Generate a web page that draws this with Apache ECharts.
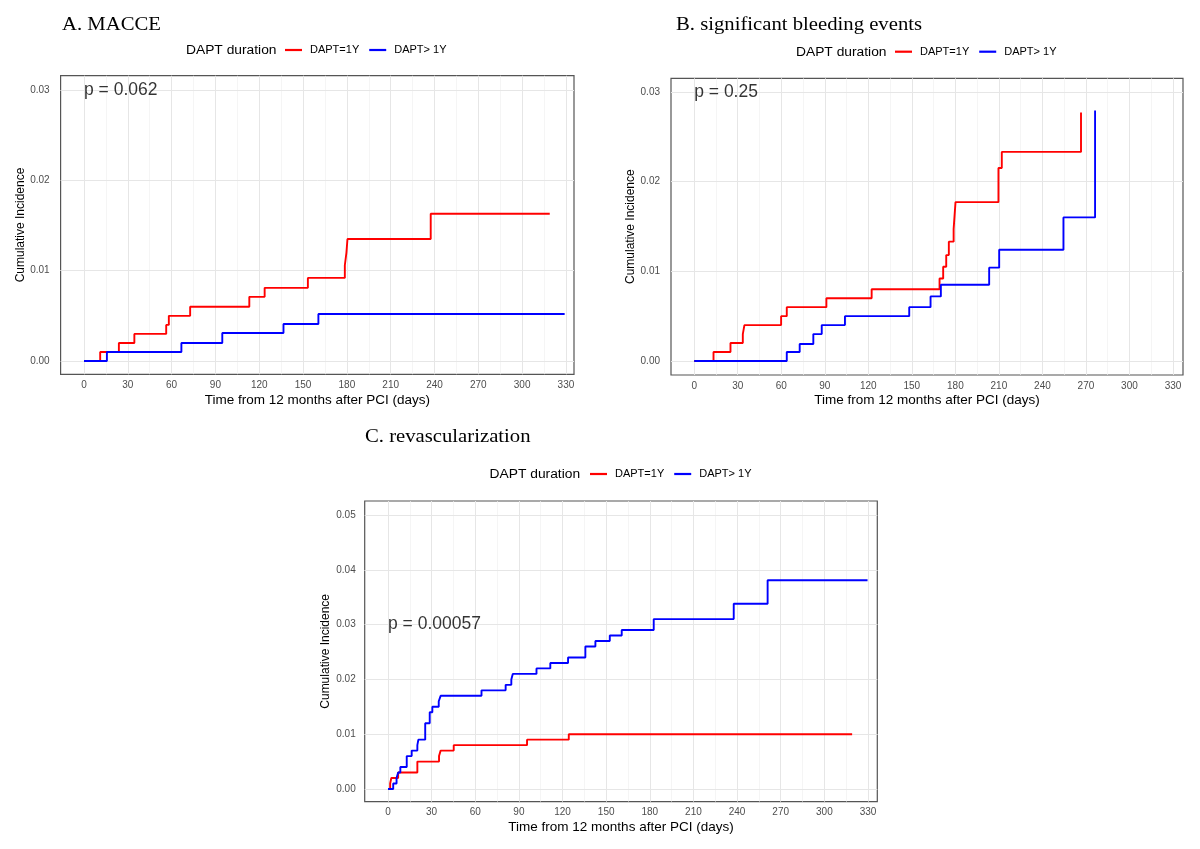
<!DOCTYPE html>
<html><head><meta charset="utf-8">
<script src="https://cdn.jsdelivr.net/npm/echarts@6/dist/echarts.min.js"></script>
<style>html,body{margin:0;padding:0;background:#fff}#c{width:1200px;height:849px}</style>
</head><body><div id="c"></div>
<script>
// ---------- data ----------
const panelTitles = ['A. MACCE', 'B. significant bleeding events', 'C. revascularization'];
const pValues = ['p = 0.062', 'p = 0.25', 'p = 0.00057'];
const legendTitle = 'DAPT duration';
const groupNames = ['DAPT=1Y', 'DAPT> 1Y'];
const xTitle = 'Time from 12 months after PCI (days)';
const yTitle = 'Cumulative Incidence';
const xTicks = [0, 30, 60, 90, 120, 150, 180, 210, 240, 270, 300, 330];
const xMinor = [15, 45, 75, 105, 135, 165, 195, 225, 255, 285, 315];
const yTicksAB = [0, 0.01, 0.02, 0.03];
const yMinorAB = [0.005, 0.015, 0.025];
const yTicksC = [0, 0.01, 0.02, 0.03, 0.04, 0.05];
const yMinorC = [0.005, 0.015, 0.025, 0.035, 0.045];
const pPoint = [0, 0.03];

// [day, cumulative incidence]
const macce1Y = [[0,0],[11.1,0.001],[23.9,0.002],[34.5,0.003],[56.3,0.004],[58.1,0.005],[72.7,0.006],[113.2,0.0071],[123.7,0.0081],[153.3,0.0092],[178.6,0.0106],[179.7,0.012],[180.4,0.0135],[237.4,0.0163],[318.9,0.0163]];
const macceGt1Y = [[0,0],[15.7,0.001],[66.7,0.002],[94.7,0.0031],[136.6,0.0041],[160.5,0.0052],[329.1,0.0052]];
const bleed1Y = [[0,0],[13.3,0.001],[25.0,0.002],[33.5,0.003],[34.6,0.004],[59.9,0.005],[63.8,0.006],[91.1,0.007],[122.3,0.008],[169.1,0.0092],[171.6,0.0105],[173.7,0.0118],[175.5,0.0133],[178.8,0.0147],[180.1,0.0177],[209.7,0.0215],[212.0,0.0233],[266.6,0.0277]];
const bleedGt1Y = [[0,0],[63.8,0.001],[72.7,0.0019],[82.1,0.003],[87.9,0.004],[103.9,0.005],[148.2,0.006],[162.9,0.0072],[170.0,0.0085],[203.3,0.0104],[210.2,0.0124],[254.5,0.016],[276.3,0.0279]];
const revasc1Y = [[0,0],[1.5,0.001],[2.3,0.002],[7.0,0.003],[20.2,0.005],[35.1,0.006],[36.2,0.007],[45.2,0.008],[95.6,0.009],[124.3,0.010],[319.1,0.010]];
const revascGt1Y = [[0,0],[3.6,0.001],[5.9,0.002],[7.0,0.003],[8.5,0.004],[12.9,0.006],[16.3,0.007],[20.2,0.008],[20.9,0.009],[25.6,0.012],[28.7,0.014],[30.5,0.015],[34.9,0.016],[36.2,0.017],[64.3,0.018],[80.9,0.019],[84.8,0.020],[85.8,0.021],[102.1,0.022],[111.6,0.023],[123.8,0.024],[135.7,0.026],[142.6,0.027],[152.5,0.028],[160.7,0.029],[182.7,0.031],[237.7,0.0338],[261.0,0.0381],[329.7,0.0381]];

// ---------- layout (pixels / styles) ----------
const panels = [
  {grid:{left:60.6, top:75.7, width:513.4, height:298.6}, x:[-16,335.5], y:[-0.00147,0.03158], yTicks:yTicksAB, yMinor:yMinorAB, red:macce1Y, blue:macceGt1Y, yMargin:11,
   title:[62,25], legTitle:[186,51], legend:[285,44.5]},
  {grid:{left:671, top:78.3, width:512, height:296.7}, x:[-16,336.9], y:[-0.00156,0.0315], yTicks:yTicksAB, yMinor:yMinorAB, red:bleed1Y, blue:bleedGt1Y, yMargin:11,
   title:[676,25], legTitle:[796,52.7], legend:[895,46.2]},
  {grid:{left:364.7, top:501, width:512.6, height:300.7}, x:[-16,336.4], y:[-0.00232,0.05255], yTicks:yTicksC, yMinor:yMinorC, red:revasc1Y, blue:revascGt1Y, yMargin:9,
   title:[365,437], legTitle:[489.6,475], legend:[590,468.5]}
];
const RED = '#ff0000', BLUE = '#0000ff';
const SANS = 'Liberation Sans', SERIF = 'Liberation Serif';

const grid = [], xAxis = [], yAxis = [], series = [], legend = [], graphic = [];
panels.forEach((p, i) => {
  grid.push(Object.assign({show:true, borderColor:'#555', borderWidth:1.2, backgroundColor:'#fff'}, p.grid));
  xAxis.push({type:'value', gridIndex:i, min:p.x[0], max:p.x[1],
    name:xTitle, nameLocation:'middle', nameGap:18.5,
    nameTextStyle:{fontFamily:SANS, fontSize:13.5, color:'#000'},
    axisLine:{show:false}, splitLine:{show:false},
    axisTick:{show:true, customValues:xTicks, length:3.5, lineStyle:{color:'#333', width:1}},
    axisLabel:{customValues:xTicks, margin:6, fontFamily:SANS, fontSize:10, color:'#4d4d4d'}});
  yAxis.push({type:'value', gridIndex:i, min:p.y[0], max:p.y[1],
    name:yTitle, nameLocation:'middle', nameGap:33,
    nameTextStyle:{fontFamily:SANS, fontSize:12, color:'#000'},
    axisLine:{show:false}, splitLine:{show:false},
    axisTick:{show:true, customValues:p.yTicks, length:5, lineStyle:{color:'#333', width:1}},
    axisLabel:{customValues:p.yTicks, margin:p.yMargin, fontFamily:SANS, fontSize:10, color:'#4d4d4d',
      formatter:v => v.toFixed(2)}});
  // gridlines (ggplot theme_bw style), kept beneath the curves
  const major = {color:'#e6e6e6', width:1, type:'solid'};
  const minor = {color:'#f0f0f0', width:0.7, type:'solid'};
  series.push({type:'line', xAxisIndex:i, yAxisIndex:i, data:[[0,0]], showSymbol:false, symbol:'none',
    lineStyle:{width:0, opacity:0}, silent:true, z:1, legendHoverLink:false,
    markLine:{silent:true, z:1, symbol:['none','none'], label:{show:false}, animation:false,
      data:[].concat(
        xMinor.map(v => ({xAxis:v, lineStyle:minor})),
        p.yMinor.map(v => ({yAxis:v, lineStyle:minor})),
        xTicks.map(v => ({xAxis:v, lineStyle:major})),
        p.yTicks.map(v => ({yAxis:v, lineStyle:major})))}});
  series.push({name:groupNames[0], type:'line', step:'end', xAxisIndex:i, yAxisIndex:i, data:p.red,
    symbol:'none', showSymbol:false, lineStyle:{color:RED, width:1.9}, itemStyle:{color:RED}, z:10});
  series.push({name:groupNames[1], type:'line', step:'end', xAxisIndex:i, yAxisIndex:i, data:p.blue,
    symbol:'none', showSymbol:false, lineStyle:{color:BLUE, width:1.9}, itemStyle:{color:BLUE}, z:10});
  // p-value annotation at data coordinates
  series.push({type:'scatter', xAxisIndex:i, yAxisIndex:i, data:[pPoint], symbolSize:0, silent:true, z:12,
    label:{show:true, position:'right', distance:0, formatter:pValues[i], fontFamily:SANS, fontSize:17.5, color:'#000'}});
  legend.push({data:groupNames, left:p.legend[0], top:p.legend[1], padding:0, icon:'rect',
    itemWidth:17, itemHeight:2.2, itemGap:10, selectedMode:false,
    textStyle:{fontFamily:SANS, fontSize:11, color:'#000', padding:[0,0,0,3]}});
  graphic.push({type:'text', x:p.title[0], y:p.title[1], scaleX:1.15,
    style:{text:panelTitles[i], font:'18px "' + SERIF + '"', fill:'#000', verticalAlign:'middle'}});
  graphic.push({type:'text', x:p.legTitle[0], y:p.legTitle[1], scaleX:1.15,
    style:{text:legendTitle, font:'12px "' + SANS + '"', fill:'#000', verticalAlign:'middle'}});
});

const chart = echarts.init(document.getElementById('c'), null, {renderer:'canvas'});
chart.setOption({animation:false, backgroundColor:'#fff', grid, xAxis, yAxis, series, legend, graphic});
</script>
</body></html>
